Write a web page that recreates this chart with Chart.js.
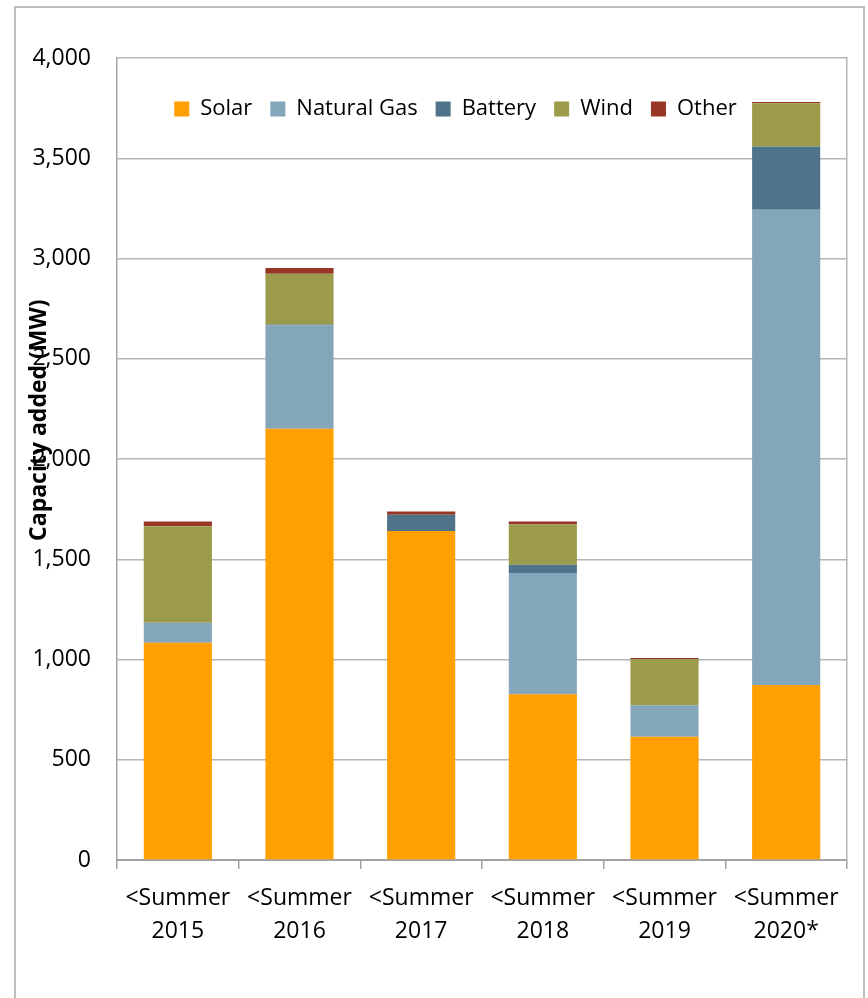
<!DOCTYPE html>
<html lang="en">
<head>
  <meta charset="UTF-8" />
  <title>Capacity added (MW)</title>
  <script src="https://cdn.jsdelivr.net/npm/chart.js"></script>
  <style>
    html, body { margin: 0; padding: 0; background: #fff; }
    #wrap { position: relative; width: 868px; height: 998px; overflow: hidden; }
    #frame { position: absolute; left: 14px; top: 6px; width: 847px; height: 1000px;
             border: 2px solid #bdbdbd; border-bottom: none; pointer-events: none; }
    canvas { position: absolute; left: 0; top: 0; }
  </style>
</head>
<body>
  <div id="wrap">
    <canvas id="capChart" width="868" height="998"></canvas>
    <div id="frame"></div>
  </div>

  <script>
    // values (MW)
    const categories = [
      ['<Summer', '2015'], ['<Summer', '2016'], ['<Summer', '2017'],
      ['<Summer', '2018'], ['<Summer', '2019'], ['<Summer', '2020*']
    ];
    const solar      = [1084, 2151, 1641, 827, 615, 873];
    const naturalGas = [99, 515, 0, 605, 157, 2370];
    const battery    = [0, 5, 81, 40, 0, 316];
    const wind       = [482, 253, 0, 201, 229, 215];
    const other      = [23, 28, 16, 15, 7, 7];

    const yTicks = { min: 0, max: 4000, step: 500 };

    const gridGray = '#b5b5b5';
    const axisGray = '#a3a3a3';
    const font = 'Open Sans';

    // legend is laid out at the top, then pushed down into the plot area
    const legendNudge = {
      id: 'legendNudge',
      afterLayout(chart) {
        const lg = chart.legend;
        lg.left += 32; lg.right += 32;
        lg.top += 72; lg.bottom += 72;
      }
    };

    const ds = (label, data, color) => ({
      label, data, backgroundColor: color, borderWidth: 0,
      barPercentage: 0.56, categoryPercentage: 1
    });

    new Chart(document.getElementById('capChart'), {
      type: 'bar',
      data: {
        labels: categories,
        datasets: [
          ds('Solar', solar, '#ff9f00'),
          ds('Natural Gas', naturalGas, '#84a6ba'),
          ds('Battery', battery, '#4f7489'),
          ds('Wind', wind, '#9b9b4b'),
          ds('Other', other, '#983525')
        ]
      },
      options: {
        responsive: false,
        devicePixelRatio: 1,
        animation: false,
        layout: { padding: { left: 0, top: 8, right: 21, bottom: 58 } },
        plugins: {
          tooltip: { enabled: false },
          legend: {
            position: 'top',
            align: 'center',
            labels: {
              boxWidth: 15, boxHeight: 15, padding: 18,
              color: '#000', font: { family: font, size: 22 }
            }
          }
        },
        scales: {
          x: {
            stacked: true,
            afterFit: s => { s.height = 80; },
            grid: { display: true, drawOnChartArea: false, drawTicks: true,
                    tickLength: 9, color: axisGray, lineWidth: 1.5 },
            border: { display: true, color: axisGray, width: 2 },
            ticks: { color: '#000', padding: 13, maxRotation: 0,
                     font: { family: font, size: 23, lineHeight: 1.43 } }
          },
          y: {
            stacked: true,
            min: yTicks.min, max: yTicks.max,
            afterFit: s => { s.width = 117; },
            grid: { color: gridGray, lineWidth: 1.5, drawTicks: false },
            border: { display: true, color: axisGray, width: 1.5 },
            ticks: { stepSize: yTicks.step, color: '#000', padding: 26,
                     font: { family: font, size: 23 } },
            title: {
              display: true,
              text: '             Capacity added (MW)',
              color: '#000',
              padding: { top: 26, bottom: 0 },
              font: { family: font, size: 23, weight: 'bold' }
            }
          },
          y2: {
            position: 'right',
            afterFit: s => { s.width = 0; },
            grid: { display: true, drawOnChartArea: false, drawTicks: false },
            border: { display: true, color: gridGray, width: 1.5 },
            ticks: { display: false }
          }
        }
      },
      plugins: [legendNudge]
    });
  </script>
</body>
</html>
